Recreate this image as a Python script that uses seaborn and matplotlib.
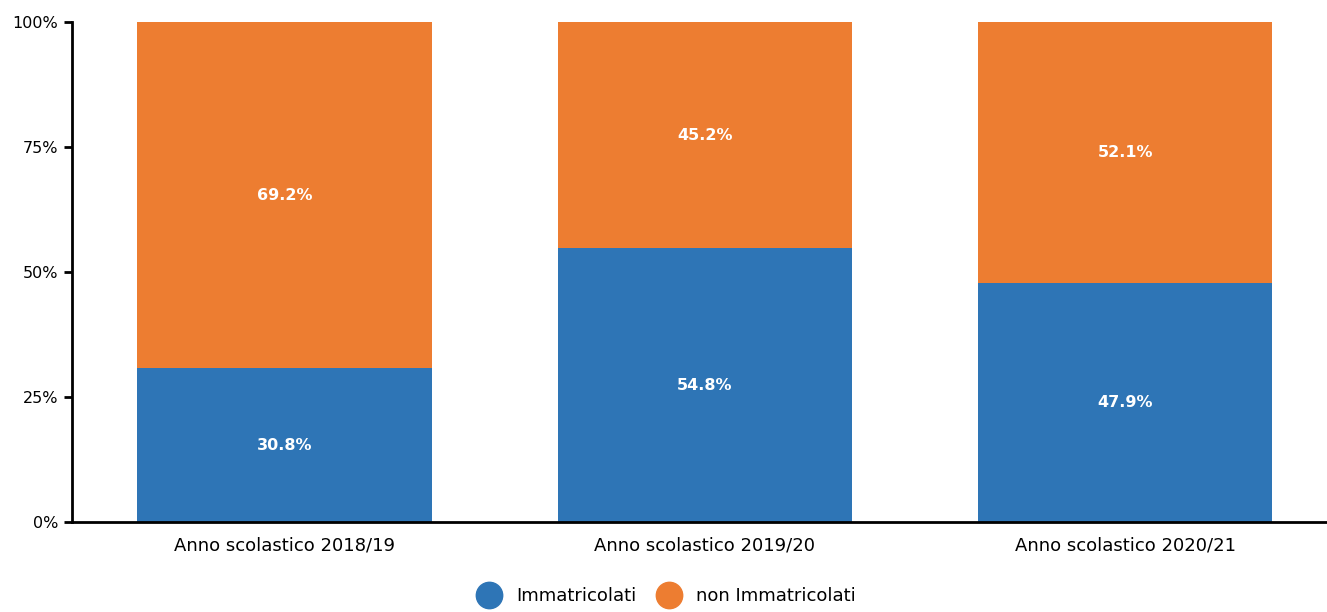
import pandas as pd
import matplotlib.pyplot as plt
import seaborn as sns
from matplotlib.lines import Line2D
from matplotlib.ticker import PercentFormatter

# data
years = ["Anno scolastico 2018/19", "Anno scolastico 2019/20", "Anno scolastico 2020/21"]
immatricolati = [30.8, 54.8, 47.9]
non_immatricolati = [69.2, 45.2, 52.1]
series_names = ["Immatricolati", "non Immatricolati"]

colors = {"Immatricolati": "#2E75B6", "non Immatricolati": "#ED7D31"}

df = pd.DataFrame({"Anno": years, "Immatricolati": immatricolati,
                   "non Immatricolati": non_immatricolati})
df["Totale"] = df["Immatricolati"] + df["non Immatricolati"]

sns.set_style("white")
plt.rcParams["font.family"] = ["DejaVu Sans"]
plt.rcParams["text.color"] = "black"
plt.rcParams["xtick.color"] = "black"
plt.rcParams["ytick.color"] = "black"

fig = plt.figure(figsize=(13.27, 6.12), dpi=100)
ax = fig.add_axes([0.0543, 0.147, 0.9457, 0.817])

# stacked: draw total (orange) then bottom (blue) over it
sns.barplot(data=df, x="Anno", y="Totale", color=colors["non Immatricolati"],
            width=0.7, ax=ax, saturation=1, linewidth=0)
sns.barplot(data=df, x="Anno", y="Immatricolati", color=colors["Immatricolati"],
            width=0.7, ax=ax, saturation=1, linewidth=0)

for i, (a, b) in enumerate(zip(immatricolati, non_immatricolati)):
    ax.text(i, a / 2, f"{a}%", ha="center", va="center", color="white",
            fontsize=11.5, fontweight="bold")
    ax.text(i, a + b / 2, f"{b}%", ha="center", va="center", color="white",
            fontsize=11.5, fontweight="bold")

ax.set_xlim(-0.505, 2.48)
ax.set_ylim(0, 100)
ax.set_yticks([0, 25, 50, 75, 100])
ax.yaxis.set_major_formatter(PercentFormatter(decimals=0))
ax.set_xlabel("")
ax.set_ylabel("")
ax.tick_params(axis="y", left=True, length=6, width=2, labelsize=11.5, pad=4)
ax.tick_params(axis="x", bottom=False, labelsize=13, pad=7)
for s in ["top", "right"]:
    ax.spines[s].set_visible(False)
ax.spines["left"].set_linewidth(2)
ax.spines["bottom"].set_linewidth(2)
ax.spines["left"].set_color("black")
ax.spines["bottom"].set_color("black")

handles = [Line2D([0], [0], marker="o", linestyle="", markersize=19,
                  markerfacecolor=colors[n], markeredgecolor=colors[n], label=n)
           for n in series_names]
fig.legend(handles=handles, loc="lower center", ncol=2, frameon=False,
           fontsize=13, bbox_to_anchor=(0.5, -0.015), handletextpad=0.5,
           columnspacing=0.8)

plt.savefig("out.png", dpi=100)
